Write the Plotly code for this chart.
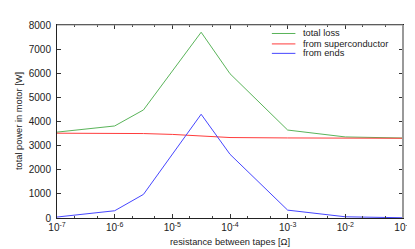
import plotly.graph_objects as go

resistance = [1e-7, 1e-6, 3.16e-6, 1e-5, 3.16e-5, 1e-4, 1e-3, 1e-2, 1e-1]
total_loss = [3560, 3815, 4480, 6110, 7700, 5980, 3645, 3360, 3315]
from_superconductor = [3515, 3510, 3500, 3465, 3400, 3335, 3318, 3308, 3305]
from_ends = [40, 300, 980, 2640, 4300, 2640, 326, 50, 10]

series_names = ["total loss", "from superconductor", "from ends"]
series_colors = ["rgb(90,180,90)", "rgb(255,60,60)", "rgb(70,70,255)"]

x_tickvals = [1e-7, 1e-6, 1e-5, 1e-4, 1e-3, 1e-2, 1e-1]
x_ticktext = ["10<sup>-7</sup>", "10<sup>-6</sup>", "10<sup>-5</sup>", "10<sup>-4</sup>",
              "10<sup>-3</sup>", "10<sup>-2</sup>", "10<sup>-1</sup>"]

fig = go.Figure()
for name, ys, col in zip(series_names, [total_loss, from_superconductor, from_ends], series_colors):
    fig.add_trace(go.Scatter(x=resistance, y=ys, mode="lines", name=name,
                             line=dict(color=col, width=1), showlegend=False))

font = dict(family="Liberation Sans, Arial, sans-serif", size=10, color="#222")

shapes = [
    dict(type="line", xref="paper", yref="paper", x0=0, x1=1, y0=1, y1=1,
         line=dict(color="#999", width=1), layer="above"),
    dict(type="line", xref="paper", yref="paper", x0=1, x1=1, y0=0, y1=1,
         line=dict(color="#999", width=2), layer="above"),
]
annotations = [
    dict(xref="paper", yref="paper", x=-0.111, y=0.5, text="total power in motor [W]",
         textangle=-90, showarrow=False, xanchor="center", yanchor="middle",
         font=dict(size=9.3, color="#222")),
]
key_y = [0.956, 0.902, 0.853]
for name, col, ky in zip(series_names, series_colors, key_y):
    shapes.append(dict(type="line", xref="paper", yref="paper", x0=0.621, x1=0.689,
                       y0=ky, y1=ky, line=dict(color=col, width=1)))
    annotations.append(dict(xref="paper", yref="paper", x=0.704, y=ky, text=name,
                            showarrow=False, xanchor="left", yanchor="middle",
                            font=dict(size=9.3, color="#222")))

fig.update_layout(
    width=415, height=249,
    margin=dict(l=49, r=15, t=11, b=34),
    paper_bgcolor="white", plot_bgcolor="white",
    font=font,
    showlegend=False,
    xaxis=dict(type="log", range=[-7, -1], tickvals=x_tickvals, ticktext=x_ticktext,
               ticks="inside", ticklen=4, tickcolor="#333", showline=True, linecolor="#222",
               linewidth=1, mirror="ticks", showgrid=False, zeroline=False,
               minor=dict(ticks="inside", ticklen=2, tickcolor="#444", showgrid=False),
               title=dict(text="resistance between tapes [Ω]", font=dict(size=9.3), standoff=6)),
    yaxis=dict(range=[0, 8000], dtick=1000, ticks="inside", ticklen=4, tickcolor="#333",
               showline=True, linecolor="#222", linewidth=1, mirror="ticks",
               showgrid=False, zeroline=False, ticklabelstandoff=3),
    shapes=shapes,
    annotations=annotations,
)

fig.write_html("out.html")
